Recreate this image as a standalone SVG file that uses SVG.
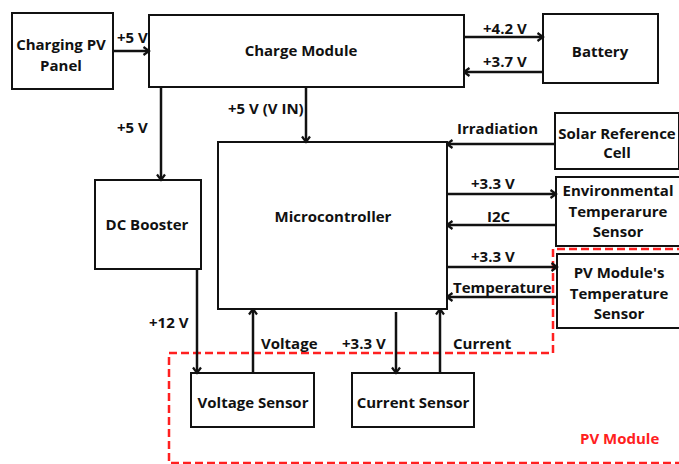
<svg xmlns="http://www.w3.org/2000/svg" width="679" height="464" viewBox="0 0 679 464">
<style>
.box{fill:#fff;stroke:#111;stroke-width:2}
.t{font-family:"Open Sans","Liberation Sans",sans-serif;font-weight:700;font-size:15px;fill:#111}
.m{text-anchor:middle}
.c{fill:none;stroke:#111;stroke-width:2.5}
</style>
<defs>
<marker id="ah" viewBox="0 0 10 10" refX="8.5" refY="5" markerWidth="10" markerHeight="10" markerUnits="userSpaceOnUse" orient="auto">
<path d="M3,1 L8.5,5 L3,9" fill="none" stroke="#111" stroke-width="2.2"/>
</marker>
</defs>
<rect width="679" height="464" fill="#fff"/>
<path d="M685,249 H553 V353 H169 V463 H685" fill="none" stroke="#ff2020" stroke-width="2.5" stroke-dasharray="8,4"/>
<g id="charging-pv"><rect class="box" x="12" y="13" width="101" height="76"/><text class="t m" x="61" y="50">Charging PV</text><text class="t m" x="61" y="71">Panel</text></g>
<g id="charge-module"><rect class="box" x="149" y="15" width="315" height="72"/><text class="t m" x="301" y="56">Charge Module</text></g>
<g id="battery"><rect class="box" x="543" y="14" width="115" height="69"/><text class="t m" x="600" y="57">Battery</text></g>
<g id="solar-ref"><rect class="box" x="555" y="113" width="124" height="56"/><text class="t m" x="617" y="139">Solar Reference</text><text class="t m" x="617" y="158">Cell</text></g>
<g id="env-temp"><rect class="box" x="556" y="177" width="124" height="69"/><text class="t m" x="618" y="196">Environmental</text><text class="t m" x="618" y="217">Temperarure</text><text class="t m" x="618" y="237">Sensor</text></g>
<g id="pv-temp"><rect class="box" x="557" y="254" width="123" height="74"/><text class="t m" x="619" y="278">PV Module's</text><text class="t m" x="619" y="299">Temperature</text><text class="t m" x="619" y="319">Sensor</text></g>
<g id="microcontroller"><rect class="box" x="218" y="142" width="229" height="167"/><text class="t m" x="333" y="222">Microcontroller</text></g>
<g id="dc-booster"><rect class="box" x="95" y="180" width="106" height="89"/><text class="t m" x="147" y="230">DC Booster</text></g>
<g id="voltage-sensor"><rect class="box" x="191" y="373" width="123" height="54"/><text class="t m" x="253" y="408">Voltage Sensor</text></g>
<g id="current-sensor"><rect class="box" x="352" y="373" width="122" height="54"/><text class="t m" x="413" y="408">Current Sensor</text></g>
<g id="connectors">
<line class="c" x1="113" y1="51" x2="149" y2="51" marker-end="url(#ah)"/>
<line class="c" x1="464" y1="37" x2="543" y2="37" marker-end="url(#ah)"/>
<line class="c" x1="543" y1="72" x2="464" y2="72" marker-end="url(#ah)"/>
<line class="c" x1="306" y1="87" x2="306" y2="142" marker-end="url(#ah)"/>
<line class="c" x1="161" y1="87" x2="161" y2="180" marker-end="url(#ah)"/>
<line class="c" x1="555" y1="144" x2="447" y2="144" marker-end="url(#ah)"/>
<line class="c" x1="447" y1="194" x2="556" y2="194" marker-end="url(#ah)"/>
<line class="c" x1="556" y1="225" x2="447" y2="225" marker-end="url(#ah)"/>
<line class="c" x1="447" y1="267" x2="557" y2="267" marker-end="url(#ah)"/>
<line class="c" x1="557" y1="297" x2="447" y2="297" marker-end="url(#ah)"/>
<line class="c" x1="197" y1="269" x2="197" y2="373" marker-end="url(#ah)"/>
<line class="c" x1="253" y1="373" x2="253" y2="309" marker-end="url(#ah)"/>
<line class="c" x1="396" y1="312" x2="396" y2="373" marker-end="url(#ah)"/>
<line class="c" x1="440" y1="373" x2="440" y2="309" marker-end="url(#ah)"/>
<text class="t" x="117" y="43">+5 V</text>
<text class="t" x="117" y="133">+5 V</text>
<text class="t" x="228" y="114">+5 V (V IN)</text>
<text class="t" x="483" y="34">+4.2 V</text>
<text class="t" x="483" y="67">+3.7 V</text>
<text class="t" x="457" y="134">Irradiation</text>
<text class="t" x="471" y="189">+3.3 V</text>
<text class="t" x="487" y="222">I2C</text>
<text class="t" x="471" y="262">+3.3 V</text>
<text class="t" x="453" y="293">Temperature</text>
<text class="t" x="453" y="349">Current</text>
<text class="t" x="149" y="328">+12 V</text>
<text class="t" x="261" y="349">Voltage</text>
<text class="t" x="342" y="349">+3.3 V</text>
</g>
<text x="580" y="444" style="font-family:'Open Sans','Liberation Sans',sans-serif;font-weight:700;font-size:15px;fill:#ff2020">PV Module</text>
</svg>
